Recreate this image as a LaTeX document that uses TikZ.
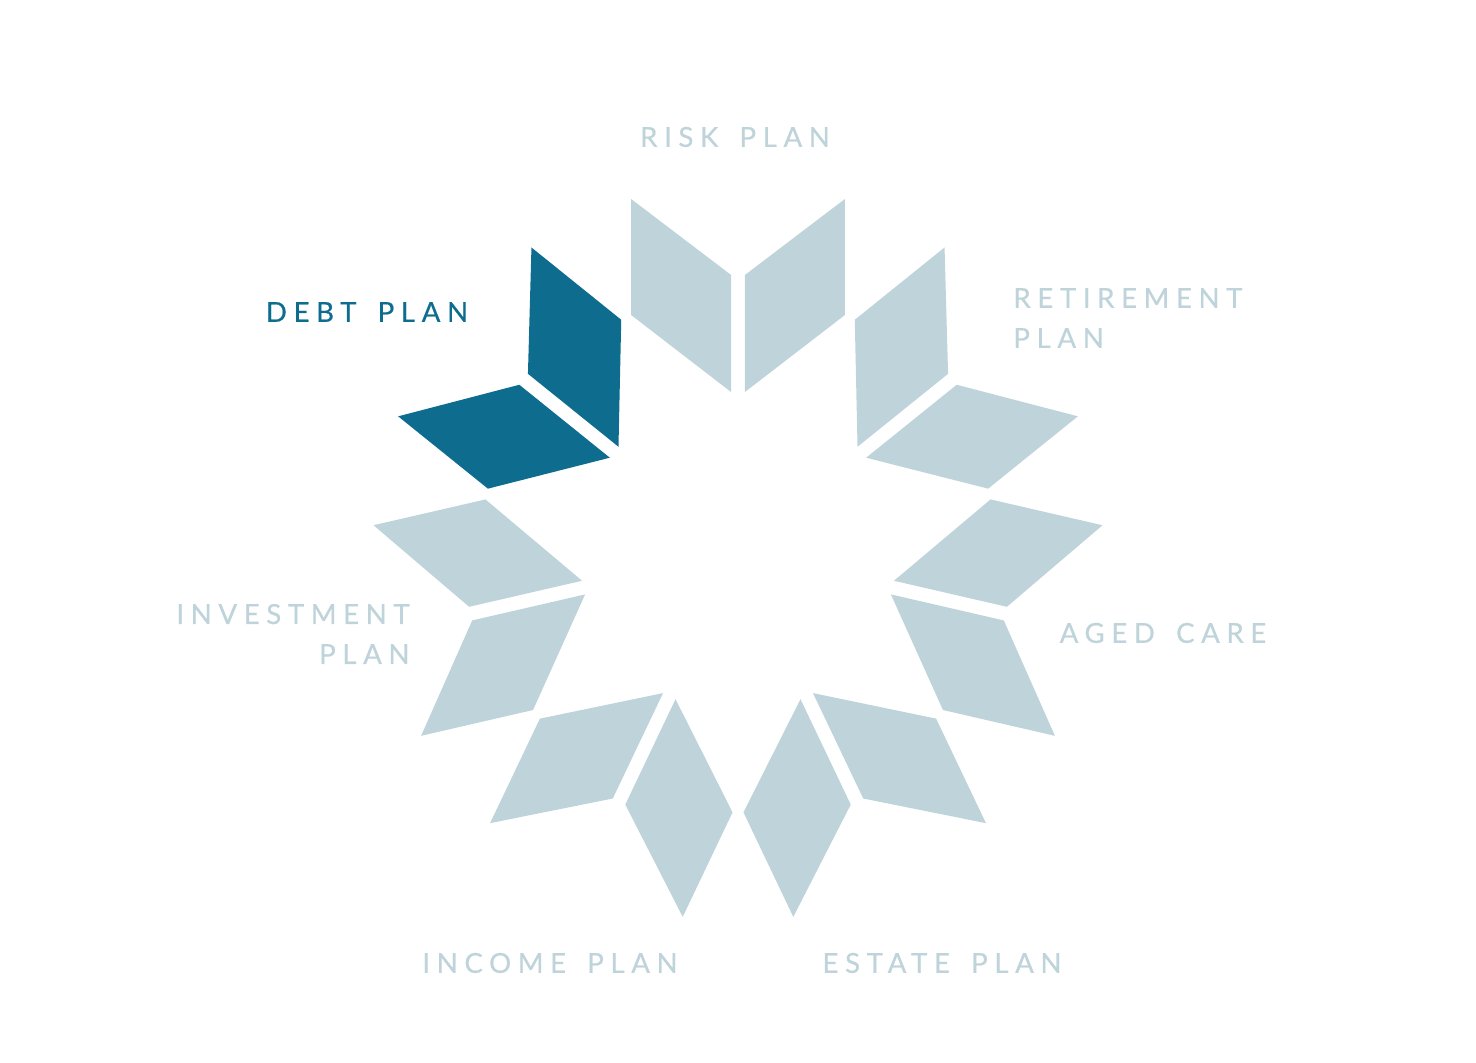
\documentclass[tikz,border=0pt]{standalone}
\usepackage{fontspec}
\setmainfont{Lato}
\newfontfamily\planfont{Lato}[LetterSpace=24, WordSpace=1.55, FakeBold=0.5]

\definecolor{planlight}{RGB}{190,211,218}
\definecolor{plandark}{RGB}{14,109,142}

\tikzset{
  petal/.style={fill=#1, draw=none},
  plantext/.style={font=\planfont\fontsize{13.8}{20}\selectfont,
    text=planlight, inner sep=0pt},
}

\begin{document}
\begin{tikzpicture}[x=0.5pt, y=0.5pt]
\useasboundingbox (0,0) rectangle (1476,1063);
% sept paires de losanges autour du centre
\foreach \k/\col in {0/planlight,1/plandark,2/planlight,3/planlight,4/planlight,5/planlight,6/planlight}{
  \begin{scope}[shift={(738,511)}, xscale=0.99, rotate={\k*360/7}]
    \fill[petal=\col] (7,160) -- (7,277) -- (108,353) -- (108,237) -- cycle;
    \fill[petal=\col] (-7,160) -- (-7,277) -- (-108,353) -- (-108,237) -- cycle;
  \end{scope}
}
% les textes
\node[plantext] (risk) at (735,926) {RISK PLAN};
\node[plantext, text=plandark] (debt) at (367,751) {DEBT PLAN};
\node[plantext, anchor=west, align=left] (retire) at (1013,745) {RETIREMENT\\PLAN};
\node[plantext] (aged) at (1163,430) {AGED CARE};
\node[plantext, anchor=east, align=right] (invest) at (410,429) {INVESTMENT\\PLAN};
\node[plantext] (income) at (550,100) {INCOME PLAN};
\node[plantext] (estate) at (942,100) {ESTATE PLAN};
\end{tikzpicture}
\end{document}
